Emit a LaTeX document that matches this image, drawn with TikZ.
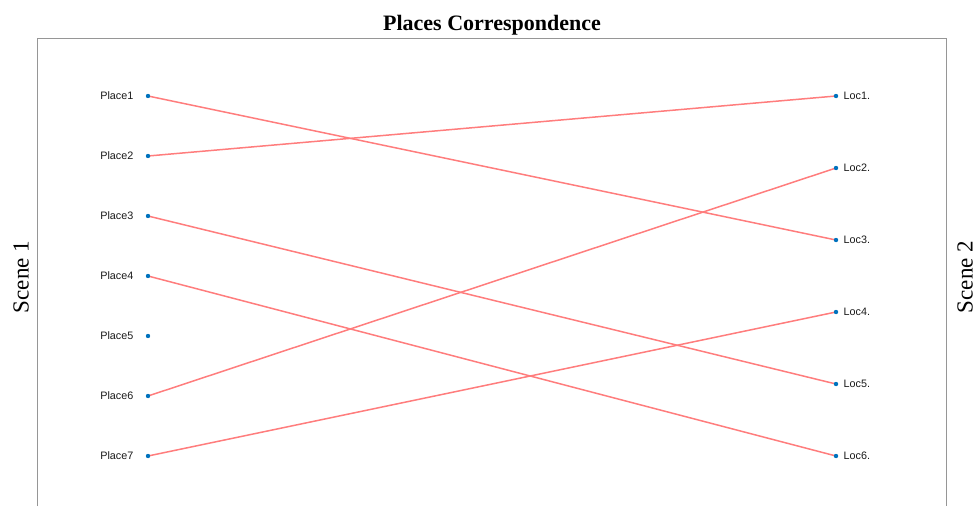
\documentclass[tikz,border=0pt]{standalone}
\usepackage{fontspec}
\setmainfont{Liberation Serif}
\newfontfamily\labelfont{Liberation Sans}
\usetikzlibrary{backgrounds}
\definecolor{dotblue}{RGB}{0, 114, 189}
\definecolor{matchred}{RGB}{255, 125, 125}
\definecolor{framegray}{RGB}{150, 150, 150}

\begin{document}
\begin{tikzpicture}[
	x=1pt, y=-1pt,
	% Styles for the place dots and the matching lines
	placedot/.style={circle, fill=dotblue, inner sep=0pt, minimum size=4.4pt},
	leftdot/.style={placedot, label={[labeltext, label distance=12pt]left:#1}},
	rightdot/.style={placedot, label={[labeltext, label distance=5pt]right:#1}},
	labeltext/.style={font=\labelfont\fontsize{10.8}{12}\selectfont, inner sep=0pt, text=black!90},
	matchline/.style={draw=matchred, line width=1.5pt},
	scenetext/.style={font=\fontsize{23}{26}\selectfont, rotate=90, inner sep=0pt}
	]
	\useasboundingbox (0,0) rectangle (976,506);
	
	% ==========================================
	% 1. FRAME AND TITLES
	% ==========================================
	\draw[framegray, line width=1pt] (37,506) -- (37,38) -- (946,38) -- (946,506);
	\node[font=\bfseries\fontsize{22}{24}\selectfont] (title) at (492,25) {Places Correspondence};
	\node[scenetext] (scene1) at (21,277) {Scene 1};
	\node[scenetext] (scene2) at (965,277) {Scene 2};
	
	% ==========================================
	% 2. SCENE 1 PLACES (left column)
	% ==========================================
	\node[leftdot=Place1] (p1) at (148,96) {};
	\node[leftdot=Place2] (p2) at (148,156) {};
	\node[leftdot=Place3] (p3) at (148,216) {};
	\node[leftdot=Place4] (p4) at (148,276) {};
	\node[leftdot=Place5] (p5) at (148,336) {};
	\node[leftdot=Place6] (p6) at (148,396) {};
	\node[leftdot=Place7] (p7) at (148,456) {};
	
	% ==========================================
	% 3. SCENE 2 LOCATIONS (right column)
	% ==========================================
	\node[rightdot=Loc1.] (l1) at (836,96) {};
	\node[rightdot=Loc2.] (l2) at (836,168) {};
	\node[rightdot=Loc3.] (l3) at (836,240) {};
	\node[rightdot=Loc4.] (l4) at (836,312) {};
	\node[rightdot=Loc5.] (l5) at (836,384) {};
	\node[rightdot=Loc6.] (l6) at (836,456) {};
	
	% ==========================================
	% 4. CORRESPONDENCES (behind the dots)
	% ==========================================
	\begin{scope}[on background layer]
		\draw[matchline] (p1.center) -- (l3.center);
		\draw[matchline] (p2.center) -- (l1.center);
		\draw[matchline] (p3.center) -- (l5.center);
		\draw[matchline] (p4.center) -- (l6.center);
		\draw[matchline] (p6.center) -- (l2.center);
		\draw[matchline] (p7.center) -- (l4.center);
	\end{scope}
	
\end{tikzpicture}
\end{document}
